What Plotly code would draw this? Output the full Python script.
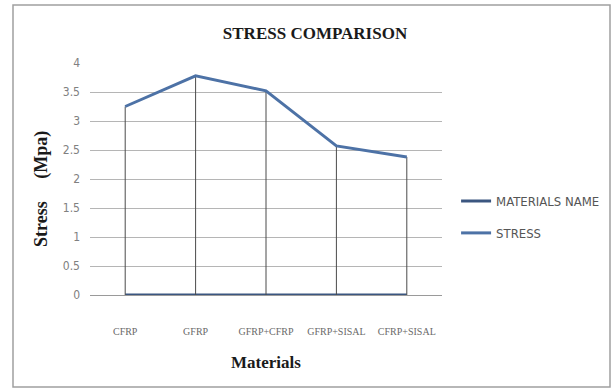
import plotly.graph_objects as go

# Materials compared and their measured stress (MPa)
materials = ["CFRP", "GFRP", "GFRP+CFRP", "GFRP+SISAL", "CFRP+SISAL"]
stress_values = [3.25, 3.78, 3.52, 2.57, 2.38]
# The "MATERIALS NAME" series holds text only, so it plots flat at zero
materials_name_values = [0, 0, 0, 0, 0]
y_ticks = [0, 0.5, 1, 1.5, 2, 2.5, 3, 3.5, 4]
y_tick_text = ["0", "0.5", "1", "1.5", "2", "2.5", "3", "3.5", "4"]

SERIF = "Liberation Serif, Times New Roman, serif"
NARROW = "Liberation Sans Narrow, DejaVu Sans Condensed, Arial Narrow, sans-serif"

fig = go.Figure()

fig.add_trace(go.Scatter(
    x=materials, y=materials_name_values, name="MATERIALS NAME",
    legendgroup="names",
    mode="lines", line=dict(color="#3b5680", width=3),
))
fig.add_trace(go.Scatter(
    x=materials, y=stress_values, name="STRESS",
    legendgroup="stress",
    mode="lines", line=dict(color="#4d72a6", width=3),
    # drop lines from each point down to the category axis
    error_y=dict(type="data", symmetric=False, array=[0] * len(stress_values),
                 arrayminus=stress_values, width=0, thickness=1, color="#4a4a4a"),
))

fig.update_layout(
    width=611, height=389,
    margin=dict(l=90, r=169, t=63, b=94, autoexpand=False),
    paper_bgcolor="white", plot_bgcolor="white",
    showlegend=True,
    title=dict(text="<b>STRESS COMPARISON</b>", x=315 / 611, xanchor="center",
               y=1 - 33 / 389, yanchor="middle",
               font=dict(family=SERIF, size=17, color="#1a1a1a")),
    legend=dict(x=1.04, xanchor="left", y=0.336, yanchor="middle",
                itemwidth=30, tracegroupgap=12,
                font=dict(family=NARROW, size=13, color="#555555"),
                bgcolor="rgba(0,0,0,0)"),
    xaxis=dict(
        type="category", range=[-0.5, 4.5],
        showgrid=False, showline=True, linecolor="#9a9a9a", linewidth=1,
        ticks="", ticklabelstandoff=27,
        tickfont=dict(family=SERIF, size=10, color="#6a6a6a"),
        title=dict(text="<b>Materials</b>", standoff=20,
                   font=dict(family=SERIF, size=17, color="#1a1a1a")),
    ),
    yaxis=dict(
        range=[0, 4], tickvals=y_ticks, ticktext=y_tick_text,
        showgrid=True, gridcolor="#b5b5b5", gridwidth=1,
        zeroline=False, showline=False, ticks="",
        tickfont=dict(family=NARROW, size=12, color="#808080"),
        ticklabelstandoff=9,
    ),
    annotations=[dict(
        text="<b>Stress&nbsp;&nbsp;&nbsp;&nbsp;&nbsp;(Mpa)</b>", textangle=-90,
        xref="paper", yref="paper", x=(41 - 90) / 352, y=(295 - 189) / 232,
        xanchor="center", yanchor="middle", showarrow=False,
        font=dict(family=SERIF, size=18, color="#1a1a1a"),
    )],
    shapes=[dict(type="rect", xref="paper", yref="paper",
                 x0=(13 - 90) / 352, x1=(610 - 90) / 352,
                 y0=(295 - 387) / 232, y1=(295 - 5) / 232,
                 line=dict(color="#a0a0a0", width=1.5), layer="below")],
)

fig.write_html("out.html")
